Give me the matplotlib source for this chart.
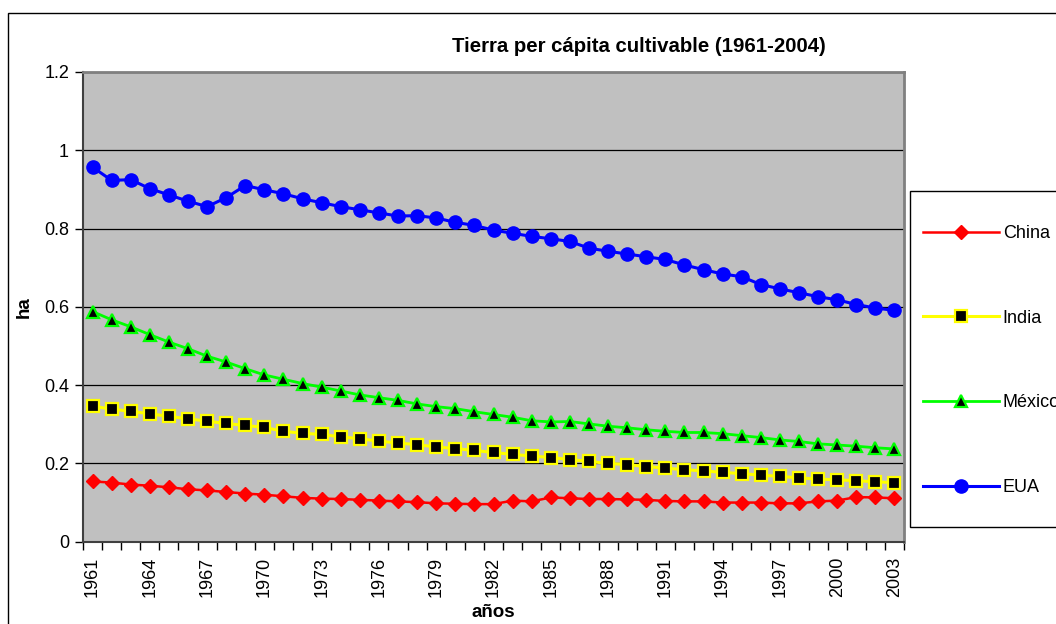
import matplotlib
matplotlib.use("Agg")
import matplotlib.pyplot as plt
from matplotlib.patches import Rectangle
import numpy as np

plt.rcParams['font.family'] = ['Liberation Sans', 'DejaVu Sans']

years = list(range(1961, 2004))

china = [0.154, 0.151, 0.146, 0.143, 0.139, 0.134, 0.131, 0.127, 0.123, 0.120,
         0.116, 0.112, 0.110, 0.109, 0.107, 0.105, 0.103, 0.101, 0.098, 0.097,
         0.096, 0.096, 0.105, 0.103, 0.113, 0.111, 0.109, 0.109, 0.108, 0.107,
         0.104, 0.103, 0.103, 0.100, 0.100, 0.100, 0.098, 0.098, 0.103, 0.105,
         0.114, 0.113, 0.111]

india = [0.346, 0.339, 0.333, 0.327, 0.320, 0.314, 0.308, 0.302, 0.297, 0.292,
         0.282, 0.277, 0.274, 0.268, 0.263, 0.257, 0.252, 0.248, 0.242, 0.238,
         0.233, 0.228, 0.223, 0.219, 0.215, 0.210, 0.205, 0.200, 0.197, 0.192,
         0.188, 0.184, 0.181, 0.177, 0.174, 0.170, 0.167, 0.163, 0.160, 0.158,
         0.156, 0.153, 0.151]

mexico = [0.588, 0.567, 0.549, 0.529, 0.510, 0.493, 0.474, 0.459, 0.442, 0.426,
          0.415, 0.404, 0.395, 0.385, 0.375, 0.368, 0.361, 0.352, 0.345, 0.340,
          0.332, 0.325, 0.318, 0.309, 0.306, 0.307, 0.301, 0.295, 0.291, 0.286,
          0.282, 0.279, 0.279, 0.276, 0.271, 0.266, 0.260, 0.256, 0.250, 0.247,
          0.244, 0.240, 0.237]

eua = [0.957, 0.923, 0.925, 0.902, 0.886, 0.870, 0.856, 0.879, 0.910, 0.899,
       0.889, 0.876, 0.866, 0.856, 0.848, 0.840, 0.832, 0.833, 0.827, 0.816,
       0.808, 0.796, 0.788, 0.780, 0.774, 0.767, 0.750, 0.742, 0.735, 0.728,
       0.721, 0.707, 0.695, 0.684, 0.677, 0.657, 0.646, 0.636, 0.626, 0.618,
       0.606, 0.597, 0.591]

ytick_vals = [0, 0.2, 0.4, 0.6, 0.8, 1.0, 1.2]
ytick_labels = ["0", "0.2", "0.4", "0.6", "0.8", "1", "1.2"]

title = "Tierra per cápita cultivable (1961-2004)"

W, H = 1056, 624
fig = plt.figure(figsize=(W / 100, H / 100), dpi=100)
fig.patch.set_facecolor('white')

# outer chart border (extends past right and bottom edges)
fig.patches.append(Rectangle((8 / W, -0.05), 1.2, 1 - 13 / H + 0.05,
                             transform=fig.transFigure, fill=False,
                             edgecolor='black', linewidth=1.0, zorder=0))

ax = fig.add_axes([83 / W, 1 - 541.7 / H, (904 - 83) / W, (541.7 - 72) / H])
ax.set_facecolor('#C0C0C0')

x = np.arange(len(years))

ax.plot(x, china, color='#FF0000', linewidth=1.8, marker='D', markersize=7.5,
        markerfacecolor='#FF0000', markeredgecolor='#FF0000', label='China', zorder=3)
ax.plot(x, india, color='#FFFF00', linewidth=2.2, marker='s', markersize=8,
        markerfacecolor='black', markeredgecolor='#FFFF00', markeredgewidth=1.6,
        label='India', zorder=3)
ax.plot(x, mexico, color='#00FF00', linewidth=2.0, marker='^', markersize=9,
        markerfacecolor='black', markeredgecolor='#00FF00', markeredgewidth=1.6,
        label='México', zorder=3)
ax.plot(x, eua, color='#0000FF', linewidth=2.2, marker='o', markersize=9.5,
        markerfacecolor='#0000FF', markeredgecolor='#0000FF', label='EUA', zorder=3)

ax.set_xlim(-0.5, len(years) - 0.5)
ax.set_ylim(0, 1.2)

ax.set_yticks(ytick_vals)
ax.set_yticklabels(ytick_labels, fontsize=13)
ax.yaxis.grid(True, color='black', linewidth=0.9)
ax.set_axisbelow(True)

major_pos = x[::3]
ax.set_xticks(major_pos)
ax.set_xticklabels([str(years[i]) for i in major_pos], rotation=90, fontsize=13)
ax.set_xticks(np.arange(len(years) + 1) - 0.5, minor=True)
ax.tick_params(axis='x', which='major', length=0, pad=11)
ax.tick_params(axis='x', which='minor', length=6, width=1, direction='out', color='black')
ax.tick_params(axis='y', which='major', length=6, width=1, direction='out', color='black', pad=4)

for s in ['top', 'right']:
    ax.spines[s].set_color('#808080')
    ax.spines[s].set_linewidth(2)
for s in ['left', 'bottom']:
    ax.spines[s].set_color('#404040')
    ax.spines[s].set_linewidth(1.5)

ax.set_xlabel('años', fontsize=13.5, fontweight='bold', labelpad=5)
ax.set_ylabel('ha', fontsize=13.5, fontweight='bold', labelpad=8)

fig.text(639 / W, 1 - 47 / H, title, ha='center', va='center',
         fontsize=14.7, fontweight='bold')

# legend box
fig.patches.append(Rectangle((910 / W, 1 - 527 / H), 0.2, (527 - 191) / H,
                             transform=fig.transFigure, fill=True, facecolor='white',
                             edgecolor='black', linewidth=1.0, zorder=1))
leg = fig.legend(loc='upper left', bbox_to_anchor=(923 / W, 1 - 225 / H),
                 frameon=False, fontsize=13, handlelength=4.2, handletextpad=0.22,
                 labelspacing=3.75, borderpad=0, borderaxespad=0)
leg.set_zorder(5)

fig.savefig('out.png', dpi=100)
